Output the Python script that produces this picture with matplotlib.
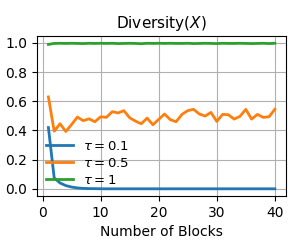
import numpy as np
import matplotlib
matplotlib.use("Agg")
import matplotlib.pyplot as plt

blocks = list(range(1, 41))

div_tau01 = [0.42, 0.075, 0.04, 0.022, 0.012, 0.006, 0.003, 0.0015, 0.001, 0.0005] + [0.0] * 30

div_tau05 = [0.63, 0.395, 0.446, 0.393, 0.441, 0.492, 0.467, 0.48, 0.46, 0.494,
             0.49, 0.529, 0.52, 0.536, 0.487, 0.464, 0.446, 0.485, 0.439, 0.476,
             0.513, 0.474, 0.46, 0.51, 0.536, 0.545, 0.513, 0.499, 0.524, 0.462,
             0.51, 0.508, 0.478, 0.497, 0.545, 0.478, 0.51, 0.49, 0.494, 0.545]

div_tau1 = [0.99, 0.997, 0.998, 0.997, 0.998, 0.997, 0.996, 0.998, 0.997, 0.998,
            0.997, 0.998, 0.996, 0.997, 0.998, 0.997, 0.995, 0.998, 0.997, 0.998,
            0.997, 0.998, 0.997, 0.997, 0.998, 0.996, 0.997, 0.998, 0.997, 0.996,
            0.998, 0.997, 0.997, 0.998, 0.997, 0.996, 0.997, 0.998, 0.996, 0.998]

labels = [r"$\tau = 0.1$", r"$\tau = 0.5$", r"$\tau = 1$"]

fig = plt.figure(figsize=(2.99, 2.4), dpi=100)
ax = fig.add_axes([0.124, 0.183, 0.833, 0.667])
ax.plot(blocks, div_tau01, color="#1f77b4", linewidth=2, label=labels[0])
ax.plot(blocks, div_tau05, color="#ff7f0e", linewidth=2, label=labels[1])
ax.plot(blocks, div_tau1, color="#2ca02c", linewidth=2, label=labels[2])
ax.set_title(r"Diversity($X$)", fontsize=11)
ax.set_xlabel("Number of Blocks")
ax.set_xticks([0, 10, 20, 30, 40])
ax.set_yticks([0.0, 0.2, 0.4, 0.6, 0.8, 1.0])
ax.grid(True)
ax.legend(loc="lower left", frameon=False, fontsize=9.5, borderaxespad=0.3,
          labelspacing=0.3)
fig.savefig("out.png", dpi=100)
